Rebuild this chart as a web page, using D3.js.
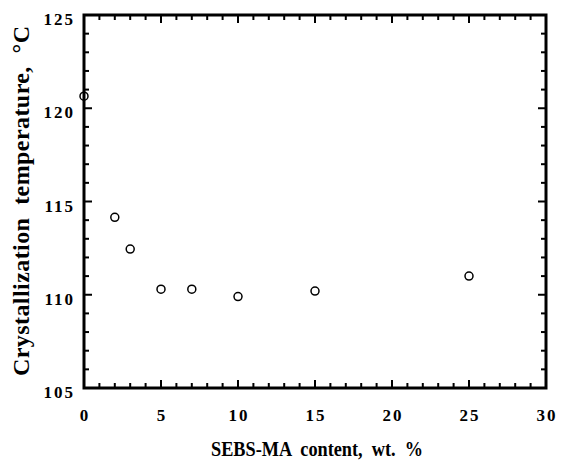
<!DOCTYPE html>
<html>
<head>
<meta charset="utf-8">
<script src="https://cdn.jsdelivr.net/npm/d3@7"></script>
<style>
  body { margin: 0; background: #fff; }
  text { font-family: "Liberation Serif", "Times New Roman", serif; font-weight: bold; fill: #000; }
</style>
</head>
<body>
<svg id="chart" width="562" height="462"></svg>
<script>
// data
const sebsContent = [0, 2, 3, 5, 7, 10, 15, 25];
const crystTemp = [120.65, 114.15, 112.45, 110.3, 110.3, 109.9, 110.2, 111.0];
const xTickLabels = [0, 5, 10, 15, 20, 25, 30];
const yTickLabels = [105, 110, 115, 120, 125];

const margin = {left: 84, right: 16, top: 15, bottom: 74};
const width = 562, height = 462;

const svg = d3.select("#chart");

const x = d3.scaleLinear().domain([0, 30]).range([margin.left, width - margin.right]);
const y = d3.scaleLinear().domain([105, 125]).range([height - margin.bottom, margin.top]);

const majorLen = 8, minorLen = 5;
const xMinor = d3.range(1, 30).filter(v => v % 5 !== 0);
const yMinor = d3.range(106, 125).filter(v => v % 5 !== 0);

const ticks = svg.append("g").attr("stroke", "#000").attr("stroke-width", 2);

// bottom & top ticks, pointing inward
[[y(105), -1], [y(125), 1]].forEach(([yy, dir]) => {
  ticks.selectAll(null).data(xTickLabels.slice(1, -1)).join("line")
      .attr("x1", d => x(d)).attr("x2", d => x(d))
      .attr("y1", yy).attr("y2", yy + dir * majorLen);
  ticks.selectAll(null).data(xMinor).join("line")
      .attr("x1", d => x(d)).attr("x2", d => x(d))
      .attr("y1", yy).attr("y2", yy + dir * minorLen);
});
// left & right ticks
[[x(0), 1], [x(30), -1]].forEach(([xx, dir]) => {
  ticks.selectAll(null).data(yTickLabels.slice(1, -1)).join("line")
      .attr("y1", d => y(d)).attr("y2", d => y(d))
      .attr("x1", xx).attr("x2", xx + dir * majorLen);
  ticks.selectAll(null).data(yMinor).join("line")
      .attr("y1", d => y(d)).attr("y2", d => y(d))
      .attr("x1", xx).attr("x2", xx + dir * minorLen);
});

// frame
svg.append("rect")
    .attr("x", x(0)).attr("y", y(125))
    .attr("width", x(30) - x(0)).attr("height", y(105) - y(125))
    .attr("fill", "none").attr("stroke", "#000").attr("stroke-width", 3);

// tick labels
svg.append("g").selectAll("text").data(xTickLabels).join("text")
    .attr("x", d => x(d) + 1).attr("y", y(105) + 33)
    .attr("text-anchor", "middle").attr("font-size", 17)
    .attr("letter-spacing", 2)
    .text(d => d);

svg.append("g").selectAll("text").data(yTickLabels).join("text")
    .attr("x", x(0) - 9).attr("y", d => y(d) + 10)
    .attr("text-anchor", "end").attr("font-size", 17)
    .attr("letter-spacing", 2)
    .text(d => d);

// axis titles
svg.append("text")
    .attr("x", 317).attr("y", 456)
    .attr("text-anchor", "middle").attr("font-size", 22)
    .attr("textLength", 212).attr("lengthAdjust", "spacingAndGlyphs")
    .style("white-space", "pre")
    .text("SEBS-MA  content,  wt.  %");

svg.append("text")
    .attr("transform", `translate(29,201) rotate(-90)`)
    .attr("text-anchor", "middle").attr("font-size", 24)
    .attr("textLength", 350).attr("lengthAdjust", "spacing")
    .style("white-space", "pre")
    .text("Crystallization  temperature,  \u00B0C");

// data points
svg.append("g").selectAll("circle").data(sebsContent).join("circle")
    .attr("cx", d => x(d))
    .attr("cy", (d, i) => y(crystTemp[i]))
    .attr("r", 4)
    .attr("fill", "none").attr("stroke", "#000").attr("stroke-width", 1.5);
</script>
</body>
</html>
